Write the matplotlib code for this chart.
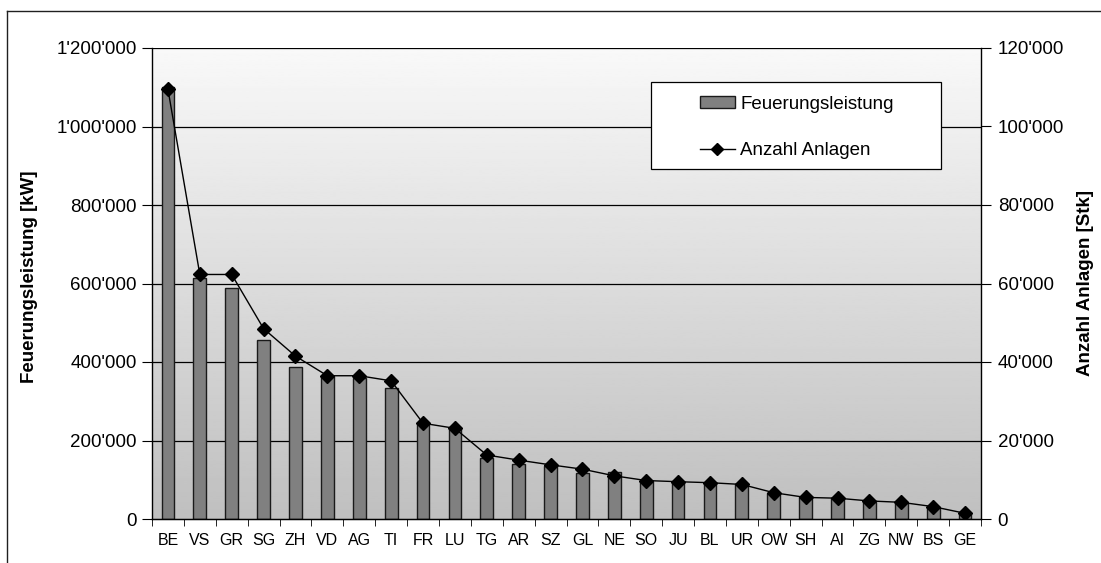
"""Feuerungsleistung und Anzahl Anlagen pro Kanton
"""

import numpy as np
from matplotlib import pyplot
from matplotlib.lines import Line2D
from matplotlib.patches import Rectangle
from matplotlib.ticker import FuncFormatter, FixedLocator

pyplot.rcParams['font.family'] = ['Liberation Sans', 'DejaVu Sans']

kantone = ['BE', 'VS', 'GR', 'SG', 'ZH', 'VD', 'AG', 'TI', 'FR', 'LU', 'TG', 'AR', 'SZ',
           'GL', 'NE', 'SO', 'JU', 'BL', 'UR', 'OW', 'SH', 'AI', 'ZG', 'NW', 'BS', 'GE']
leistung = [1100000, 613000, 589000, 456000, 388000, 365000, 358000, 335000, 244000,
            231000, 155000, 139000, 135000, 116000, 121000, 98000, 95000, 91000, 89000,
            65500, 55000, 52500, 44000, 41500, 30000, 14500]
anlagen = [109500, 62300, 62300, 48500, 41500, 36500, 36500, 35200, 24400, 23100, 16300,
           15000, 13800, 12700, 11000, 9800, 9500, 9250, 8800, 6700, 5500, 5300, 4600,
           4250, 3150, 1450]


def apostroph(v, pos):
    return f'{v:,.0f}'.replace(',', "'")


fig = pyplot.figure(figsize=(11.01, 5.63), dpi=100)
ax = fig.add_axes([152 / 1101, 1 - 519 / 563, (981 - 152) / 1101, (519 - 48) / 563])
ax2 = ax.twinx()

x = np.arange(len(kantone))
ax.set_xlim(-0.5, len(kantone) - 0.5)
ax.set_ylim(0, 1200000)
ax2.set_ylim(0, 120000)

# hintergrund mit verlauf
grad = np.linspace(0.975, 0.75, 256).reshape(-1, 1)
ax.imshow(grad, cmap='gray', vmin=0, vmax=1, aspect='auto',
          extent=(-0.5, len(kantone) - 0.5, 0, 1200000), zorder=0)

for y in range(200000, 1200001, 200000):
    ax.axhline(y, color='black', lw=0.9, zorder=1)

ax.bar(x, leistung, width=0.4, color='#808080', edgecolor='#1a1a1a', lw=1.0, zorder=2)
ax2.plot(x, anlagen, color='black', lw=1.0, marker='D', markersize=7, zorder=3)

ax.yaxis.set_major_formatter(FuncFormatter(apostroph))
ax2.yaxis.set_major_formatter(FuncFormatter(apostroph))
ax.set_yticks(range(0, 1200001, 200000))
ax2.set_yticks(range(0, 120001, 20000))
ax.tick_params(axis='y', labelsize=13.5, length=7, direction='out', pad=4)
ax2.tick_params(axis='y', labelsize=13.5, length=7, direction='out', pad=5)

ax.set_xticks(x)
ax.set_xticklabels(kantone, fontsize=11.5)
ax.tick_params(axis='x', length=0, pad=10)
ax.xaxis.set_minor_locator(FixedLocator(np.arange(-0.5, len(kantone), 1.0)))
ax.tick_params(axis='x', which='minor', length=5, direction='out')

for a in (ax, ax2):
    for s in ('top', 'right', 'left'):
        a.spines[s].set_visible(False)
ax.spines['left'].set_visible(True)
ax2.spines['right'].set_visible(True)
ax.spines['bottom'].set_linewidth(1.0)
ax2.spines['right'].set_linewidth(1.0)
ax.spines['left'].set_linewidth(1.0)
ax.set_zorder(ax2.get_zorder() - 1)
ax2.patch.set_visible(False)

ax.set_ylabel('Feuerungsleistung [kW]', fontsize=13.5, fontweight='bold')
ax2.set_ylabel('Anzahl Anlagen [Stk]', fontsize=13.5, fontweight='bold', rotation=90)
ax.yaxis.set_label_coords((38 - 152) / 829, (519 - 277) / 471)
ax2.yaxis.set_label_coords((1077 - 152) / 829, (519 - 283) / 471)

# legende mit eigenem rahmen
fig.add_artist(Rectangle((651 / 1101, 1 - 169 / 563), (941 - 651) / 1101, (169 - 82) / 563,
                         transform=fig.transFigure, facecolor='white', edgecolor='black',
                         lw=0.9, zorder=9))
handles = [
    Rectangle((0, 0), 1, 1, facecolor='#808080', edgecolor='#1a1a1a', lw=1.0),
    Line2D([], [], color='black', lw=1.0, marker='D', markersize=6),
]
leg = fig.legend(handles, ['Feuerungsleistung', 'Anzahl Anlagen'],
                 loc='upper left', bbox_to_anchor=(700 / 1101, 1 - 96 / 563),
                 bbox_transform=fig.transFigure, fontsize=13.5, frameon=False,
                 handlelength=1.85, handleheight=0.6, handletextpad=0.3, borderpad=0,
                 labelspacing=1.55, borderaxespad=0)
leg.set_zorder(10)

# rahmen
fig.add_artist(Line2D([7 / 1101, 7 / 1101], [0, 1 - 11 / 563], color='#202020', lw=1.0,
                      transform=fig.transFigure))
fig.add_artist(Line2D([7 / 1101, 1], [1 - 11 / 563, 1 - 11 / 563], color='#202020', lw=1.0,
                      transform=fig.transFigure))

fig.savefig('out.png', dpi=100)
